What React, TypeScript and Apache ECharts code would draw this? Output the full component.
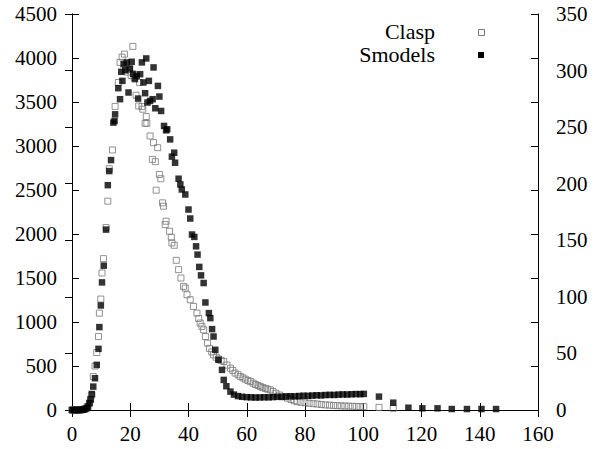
import React, { useEffect, useRef } from "react";
import * as echarts from "echarts";

const seriesNames = ["Clasp", "Smodels"];

const xTicks = { min: 0, max: 160, interval: 20 };
const yLeftTicks = { min: 0, max: 4500, interval: 500 };
const yRightTicks = { min: 0, max: 350, interval: 50 };

const claspPoints: [number, number][] = [
  [0, 0], [0.6, 0], [1.2, 0], [1.8, 0], [2.4, 0], [3.0, 3], [3.6, 6], [4.2, 12], [4.8, 22], [5.4, 40],
  [6.0, 75], [6.4, 120], [6.8, 170], [7.3, 380], [7.9, 500], [8.5, 653], [9.1, 835], [9.4, 1101],
  [9.9, 1261], [10.3, 1557], [10.8, 1720], [11.7, 2073], [12.3, 2373], [12.8, 2742], [13.9, 2955],
  [14.8, 3450], [15.9, 3722], [16.5, 3950], [17.2, 4010], [18.0, 4044], [19.0, 3840], [19.6, 3870],
  [20.3, 3800], [20.9, 4132], [21.3, 3780], [22.0, 3577], [22.9, 3455], [23.2, 3722], [24.0, 3448],
  [24.3, 3418], [25.1, 3258], [25.5, 3334], [25.7, 3258], [26.8, 3114], [27.6, 2848], [28.0, 3038],
  [28.6, 2822], [28.9, 2498], [29.4, 2981], [30.0, 2677], [30.5, 2628], [31.1, 2354], [31.4, 2316],
  [32.0, 2107], [32.3, 2145], [33.5, 2031], [34.1, 1963], [34.3, 1899], [35.1, 1872], [35.8, 1701],
  [36.6, 1595], [37.4, 1500], [38.3, 1405], [38.9, 1386], [39.5, 1310], [40.6, 1253], [41.7, 1177],
  [42.9, 1101], [43.5, 1040], [44.0, 988], [44.6, 950], [45.2, 911], [45.8, 835], [46.5, 760],
  [47.2, 700], [48.0, 660], [48.6, 627], [49.5, 600], [50.3, 580], [51.2, 565], [52.1, 551],
  [53.2, 510], [54.4, 475], [55.2, 450], [56.0, 420], [57.0, 400], [57.8, 380], [58.7, 365],
  [59.5, 350], [60.4, 335], [61.3, 323], [62.2, 305], [63.0, 290], [63.9, 278], [64.7, 266],
  [65.5, 255], [66.4, 245], [67.2, 236], [68.1, 228], [69.0, 210], [70.0, 190], [71.3, 170],
  [72.7, 152], [74.0, 135], [75.2, 120], [76.3, 105], [77.3, 95], [78.6, 88], [80.0, 82], [81.4, 77],
  [82.8, 72], [84.2, 68], [85.6, 63], [87.0, 58], [88.4, 55], [89.8, 52], [91.1, 49], [92.4, 47],
  [93.7, 45], [95.0, 44], [96.3, 42], [97.6, 40], [98.9, 39], [100.2, 38], [105.4, 30], [110.3, 19],
];

const smodelsPoints: [number, number][] = [
  [0, 0], [0.5, 0], [1.0, 0], [1.5, 0], [2.0, 0], [2.5, 0], [3.0, 0], [3.5, 2], [4.0, 5], [4.5, 10],
  [5.0, 20], [5.5, 40], [6.0, 80], [6.4, 120], [6.8, 182], [7.3, 266], [7.9, 361], [8.5, 513],
  [9.1, 695], [9.4, 942], [9.9, 1188], [10.3, 1450], [10.9, 1640], [11.7, 2050], [12.3, 2555],
  [12.8, 2715], [13.4, 2840], [14.2, 3266], [14.6, 3284], [14.8, 3360], [15.9, 3657], [16.5, 3532],
  [16.9, 3843], [17.3, 3740], [17.7, 3930], [18.3, 3860], [18.8, 3950], [19.4, 3608], [19.9, 3880],
  [20.5, 3957], [21.0, 3820], [21.6, 3760], [22.2, 3797], [22.7, 3539], [23.4, 3816], [24.0, 3950],
  [24.5, 3722], [25.1, 3600], [25.5, 3995], [25.9, 3494], [26.4, 3740], [26.8, 3512], [27.7, 3532],
  [28.0, 3893], [28.6, 3429], [29.5, 3683], [30.0, 3562], [30.6, 3398], [31.6, 3228], [32.3, 3178],
  [32.7, 3190], [33.7, 3075], [34.3, 2879], [35.1, 2924], [35.4, 2810], [36.6, 2628], [37.2, 2563],
  [37.7, 2506], [38.9, 2449], [40.0, 2278], [40.6, 2176], [41.2, 1994], [42.0, 1967], [42.6, 1860],
  [43.1, 1766], [43.7, 1626], [44.3, 1530], [45.2, 1443], [45.8, 1222], [47.0, 1101], [47.5, 1044],
  [48.1, 919], [48.6, 835], [49.2, 684], [50.3, 570], [51.5, 456], [52.1, 342], [53.0, 270],
  [54.4, 209], [55.6, 175], [57.0, 158], [58.4, 150], [60.0, 146], [61.5, 144], [63.0, 142],
  [64.5, 143], [66.0, 145], [67.5, 144], [69.0, 147], [70.5, 150], [72.0, 149], [73.5, 153],
  [75.0, 156], [76.5, 155], [78.0, 159], [79.5, 162], [81.0, 161], [82.5, 164], [84.0, 167],
  [85.5, 166], [87.0, 170], [88.5, 172], [90.0, 171], [91.5, 175], [93.0, 177], [94.5, 176],
  [96.0, 179], [97.5, 181], [99.0, 180], [100.2, 183], [105.4, 152], [110.3, 83], [115.5, 26],
  [120.3, 19], [125.5, 19], [130.4, 11], [135.6, 11], [140.6, 11], [145.6, 11],
];

const FONT = "Liberation Serif";

export default function App() {
  const ref = useRef<HTMLDivElement>(null);
  useEffect(() => {
    document.body.style.margin = "0";
    if (!ref.current) return;
    const chart = echarts.init(ref.current, undefined, { renderer: "svg" });
    const axisLine = { show: true, lineStyle: { color: "#000", width: 1 } };
    const tick = { show: true, inside: true, length: 7, lineStyle: { color: "#000" } };
    const label = {
      color: "#000", fontFamily: FONT, fontSize: 21,
      formatter: (v: number) => String(v),
    };
    chart.setOption({
      animation: false,
      backgroundColor: "#fff",
      grid: { left: 72, right: 59, top: 14, bottom: 39, containLabel: false },
      xAxis: [
        {
          type: "value", position: "bottom", ...xTicks,
          axisLine, axisTick: tick, splitLine: { show: false },
          axisLabel: { ...label, margin: 13 },
        },
        {
          type: "value", position: "top", ...xTicks,
          axisLine, axisTick: tick, splitLine: { show: false },
          axisLabel: { show: false },
        },
      ],
      yAxis: [
        {
          type: "value", position: "left", ...yLeftTicks,
          axisLine, axisTick: tick, splitLine: { show: false },
          axisLabel: { ...label, margin: 15 },
        },
        {
          type: "value", position: "right", ...yRightTicks,
          axisLine, axisTick: tick, splitLine: { show: false },
          axisLabel: { ...label, margin: 18 },
        },
        {
          type: "value", position: "right", offset: 0, ...yLeftTicks,
          axisLine, axisTick: tick, splitLine: { show: false },
          axisLabel: { show: false },
        },
      ],
      series: [
        {
          name: seriesNames[0],
          type: "scatter",
          xAxisIndex: 0,
          yAxisIndex: 0,
          symbol: "rect",
          symbolSize: 6,
          itemStyle: { color: "rgba(255,255,255,0)", borderColor: "#777", borderWidth: 1 },
          data: claspPoints,
        },
        {
          name: seriesNames[1],
          type: "scatter",
          xAxisIndex: 0,
          yAxisIndex: 0,
          symbol: "rect",
          symbolSize: 6.5,
          itemStyle: { color: "#000" },
          data: smodelsPoints,
        },
      ],
      graphic: [
        {
          type: "text", right: 162, top: 20,
          style: { text: seriesNames[0], font: `22px '${FONT}'`, fill: "#000", textAlign: "right" },
        },
        {
          type: "text", right: 162, top: 43,
          style: { text: seriesNames[1], font: `22px '${FONT}'`, fill: "#000", textAlign: "right" },
        },
        {
          type: "rect", left: 478, top: 29,
          shape: { width: 6, height: 6 },
          style: { fill: "rgba(255,255,255,0)", stroke: "#777", lineWidth: 1 },
        },
        {
          type: "rect", left: 478, top: 52,
          shape: { width: 6, height: 6 },
          style: { fill: "#000" },
        },
      ],
    });
    return () => chart.dispose();
  }, []);
  return <div ref={ref} style={{ width: 597, height: 449 }} />;
}
